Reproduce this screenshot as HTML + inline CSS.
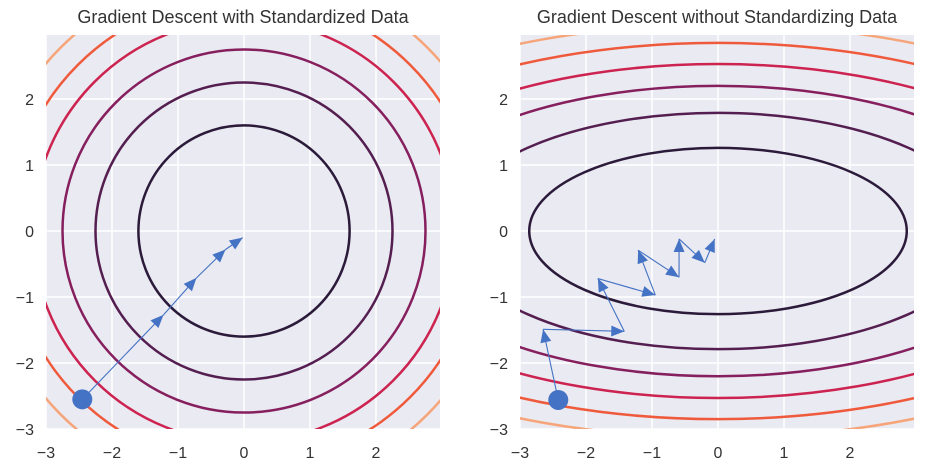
<!DOCTYPE html>
<html><head><meta charset="utf-8"><style>
body{margin:0;background:#fff}
svg{display:block;font-family:"Liberation Sans",Arial,sans-serif}
</style></head><body>
<svg id="chart" width="928" height="471" viewBox="0 0 928 471"></svg>
<script>
const ticks = [-3,-2,-1,0,1,2];
const tickLabels = ["\u22123","\u22122","\u22121","0","1","2"];
const circleLevels = [1.6,2.25,2.75,3.2,3.56,3.93];
const ellipseLevels = [1.26,1.79,2.2,2.53,2.85,3.13];
const ellipseRatio = 2.27;
const levelColors = ["#2b1a3a","#541f50","#861f5d","#cc2350","#ef5a3c","#f6a57a"];
const pathStd_x = [-2.45,-1.22,-0.72,-0.28,-0.02];
const pathStd_y = [-2.55,-1.27,-0.71,-0.28,-0.1];
const pathRaw_x = [-2.42,-2.65,-1.42,-1.82,-0.95,-1.21,-0.59,-0.59,-0.2,-0.05];
const pathRaw_y = [-2.56,-1.49,-1.52,-0.72,-0.97,-0.29,-0.70,-0.12,-0.48,-0.12];

const NS="http://www.w3.org/2000/svg";
const svg=document.getElementById('chart');
function mk(tag,attrs,parent){const e=document.createElementNS(NS,tag);for(const k in attrs)e.setAttribute(k,attrs[k]);(parent||svg).appendChild(e);return e;}

const panels=[
 {left:46,title:"Gradient Descent with Standardized Data",type:"circle",px:pathStd_x,py:pathStd_y,id:"standardized"},
 {left:520,title:"Gradient Descent without Standardizing Data",type:"ellipse",px:pathRaw_x,py:pathRaw_y,id:"unstandardized"}
];
const plotTop=35,unit=66,xmin=-3,xmax=2.97,ymax=2.97;
panels.forEach((p,pi)=>{
  const sx=v=>p.left+(v-xmin)*unit;
  const sy=v=>plotTop+(ymax-v)*unit;
  const w=(xmax-xmin)*unit,h=(ymax+3)*unit;
  const g=mk('g',{});
  
  
  const bg=mk('rect',{x:p.left,y:plotTop,width:w,height:h,fill:'#eaeaf2'},g);
  
  
  ticks.forEach((t,i)=>{
    const gx=mk('line',{x1:sx(t),x2:sx(t),y1:plotTop,y2:plotTop+h,stroke:'#fff','stroke-width':1.5},g);
    
    
    const gy=mk('line',{x1:p.left,x2:p.left+w,y1:sy(t),y2:sy(t),stroke:'#fff','stroke-width':1.5},g);
    
    
    const tx=mk('text',{x:sx(t),y:458,'text-anchor':'middle','font-size':16,fill:'#333'},g);
    tx.textContent=tickLabels[i];
    
    
    const ty=mk('text',{x:p.left-12,y:sy(t)+6,'text-anchor':'end','font-size':16,fill:'#333'},g);
    ty.textContent=tickLabels[i];
    
    
  });
  const cp=mk('clipPath',{id:'clip'+pi},g);
  mk('rect',{x:p.left,y:plotTop,width:w,height:h},cp);
  const cg=mk('g',{'clip-path':'url(#clip'+pi+')'},g);
  const levels=p.type==='circle'?circleLevels:ellipseLevels;
  levels.forEach((r,i)=>{
    const rx=p.type==='circle'?r*unit:r*ellipseRatio*unit;
    const e=mk('ellipse',{cx:sx(0),cy:sy(0),rx:rx,ry:r*unit,fill:'none',stroke:levelColors[i],'stroke-width':2.5},cg);
    
    
  });
  for(let i=0;i<p.px.length-1;i++){
    const x1=sx(p.px[i]),y1=sy(p.py[i]),x2=sx(p.px[i+1]),y2=sy(p.py[i+1]);
    const l=mk('line',{x1:x1,y1:y1,x2:x2,y2:y2,stroke:'#4472c4','stroke-width':1.1},g);
    
    
    const a=Math.atan2(y2-y1,x2-x1),L=13,W=5.5;
    const bx=x2-L*Math.cos(a),by=y2-L*Math.sin(a);
    const pts=[[x2,y2],[bx-W*Math.sin(a),by+W*Math.cos(a)],[bx+W*Math.sin(a),by-W*Math.cos(a)]].map(q=>q.join(',')).join(' ');
    const ah=mk('polygon',{points:pts,fill:'#4472c4'},g);
    
    
  }
  const dot=mk('circle',{cx:sx(p.px[0]),cy:sy(p.py[0]),r:10,fill:'#4472c4'},g);
  
  
  const t=mk('text',{x:p.left+w/2,y:23,'text-anchor':'middle','font-size':18,fill:'#333'},g);
  t.textContent=p.title;
  
  
});
</script>
</body></html>
